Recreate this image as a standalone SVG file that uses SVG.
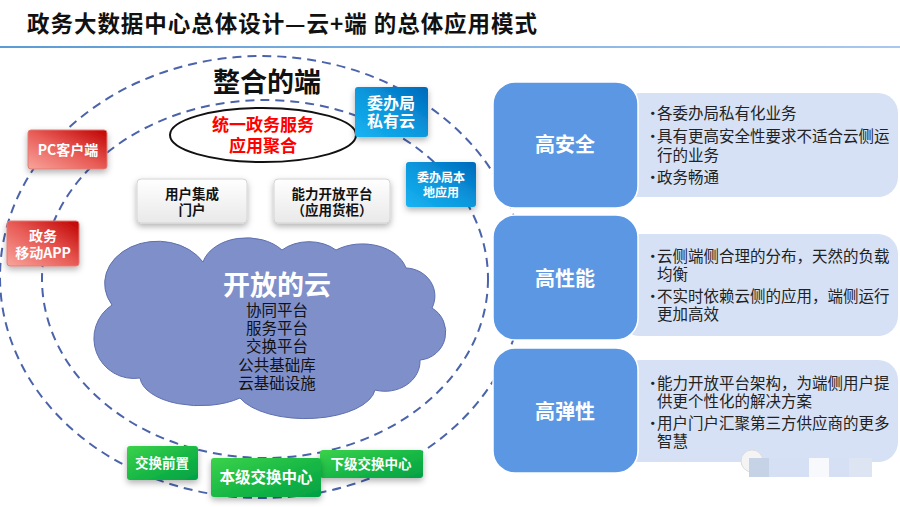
<svg xmlns="http://www.w3.org/2000/svg" width="900" height="507" viewBox="0 0 900 507">
<defs>
<style>
.t{font-family:"Noto Sans CJK SC","Liberation Sans",sans-serif;}
.w{fill:#fff;font-weight:bold;text-anchor:middle;}
.k{fill:#111;font-weight:bold;text-anchor:middle;}
.ring{fill:none;stroke:#4a63aa;stroke-width:2;stroke-dasharray:9 6;}
.big{fill:#5c97e4;stroke:#fff;stroke-width:1.5;}
.pan{fill:#d6e1f5;}
.bt{fill:#222;font-size:15.5px;}
</style>
<linearGradient id="gRed" x1="0" y1="1" x2="1" y2="0"><stop offset="0" stop-color="#f8a59c"/><stop offset="0.5" stop-color="#e85b56"/><stop offset="1" stop-color="#c00000"/></linearGradient>
<linearGradient id="gBlue" x1="0" y1="1" x2="1" y2="0"><stop offset="0" stop-color="#17b3f2"/><stop offset="0.5" stop-color="#0a97dc"/><stop offset="1" stop-color="#0068bb"/></linearGradient>
<linearGradient id="gGreen" x1="0" y1="0" x2="1" y2="1"><stop offset="0" stop-color="#3bd24b"/><stop offset="0.6" stop-color="#14b544"/><stop offset="1" stop-color="#02a046"/></linearGradient>
<linearGradient id="gGrey" x1="0" y1="0" x2="0" y2="1"><stop offset="0" stop-color="#ffffff"/><stop offset="1" stop-color="#e9e9e9"/></linearGradient>
<linearGradient id="gLine" x1="0" y1="0" x2="1" y2="0"><stop offset="0" stop-color="#5b9bd5"/><stop offset="1" stop-color="#a9c8ee"/></linearGradient>
<filter id="sh" x="-20%" y="-30%" width="140%" height="180%"><feDropShadow dx="0" dy="3" stdDeviation="3" flood-color="#000" flood-opacity="0.3"/></filter>
</defs>
<rect width="900" height="507" fill="#fff"/>
<g id="title">
<text class="t" x="27" y="32" font-size="22.5" font-weight="bold" fill="#111" textLength="510" lengthAdjust="spacing">政务大数据中心总体设计—云+端 的总体应用模式</text>
<rect x="0" y="46" width="900" height="2" fill="url(#gLine)"/>
</g>
<g id="connectors">
<ellipse class="ring" cx="262" cy="277" rx="262" ry="221"/>
<ellipse class="ring" cx="265" cy="279" rx="223" ry="179"/>
</g>
<g id="zhenghe">
<text class="t k" x="267" y="92" font-size="27">整合的端</text>
</g>
<g id="juhe">
<ellipse cx="263" cy="135" rx="93" ry="27" fill="#fff" stroke="#111" stroke-width="2"/>
<text class="t" x="263" y="131" font-size="17" font-weight="bold" fill="#f00" text-anchor="middle">统一政务服务</text>
<text class="t" x="263" y="152" font-size="17" font-weight="bold" fill="#f00" text-anchor="middle">应用聚合</text>
</g>
<g id="pc">
<rect x="28" y="130" width="79" height="39" rx="3" fill="url(#gRed)" stroke="#e27a74" filter="url(#sh)"/>
<text class="t w" x="68" y="155" font-size="14">PC客户端</text>
</g>
<g id="mobile">
<rect x="7" y="221" width="72" height="45" rx="3" fill="url(#gRed)" stroke="#e27a74" filter="url(#sh)"/>
<text class="t w" x="43" y="241" font-size="14">政务</text>
<text class="t w" x="43" y="258" font-size="14">移动APP</text>
</g>
<g id="private">
<rect x="355" y="87" width="73" height="50" rx="3" fill="url(#gBlue)" filter="url(#sh)"/>
<text class="t w" x="391" y="109" font-size="16">委办局</text>
<text class="t w" x="391" y="127" font-size="16">私有云</text>
</g>
<g id="local">
<rect x="406" y="162" width="70" height="45" rx="3" fill="url(#gBlue)" filter="url(#sh)"/>
<text class="t w" x="441" y="182" font-size="12">委办局本</text>
<text class="t w" x="441" y="197" font-size="12">地应用</text>
</g>
<g id="portal">
<rect x="137" y="179" width="110" height="44" rx="4" fill="url(#gGrey)" stroke="#d4d4d4" filter="url(#sh)"/>
<text class="t k" x="192" y="199" font-size="13.5">用户集成</text>
<text class="t k" x="192" y="215" font-size="13.5">门户</text>
</g>
<g id="open-platform">
<rect x="274" y="179" width="116" height="44" rx="4" fill="url(#gGrey)" stroke="#d4d4d4" filter="url(#sh)"/>
<text class="t k" x="332" y="199" font-size="13.5">能力开放平台</text>
<text class="t k" x="332" y="215" font-size="13.5">（应用货柜）</text>
</g>
<g id="cloud">
<path d="M203,262 A45,32 0 0 1 282,250 A38,28 0 0 1 336,250 A45,32 0 0 1 406,268 A30,28 0 0 1 432,308 A28,28 0 0 1 420,360 A35,30 0 0 1 375,390 A70,32 0 0 1 240,398 A60,30 0 0 1 140,378 A40,40 0 0 1 112,305 A50,40 0 0 1 203,262 Z" fill="#7f8fca" stroke="#5d6fae" stroke-width="1"/>
<text class="t w" x="277" y="295" font-size="27">开放的云</text>
<g class="t" fill="#111" font-size="15.5" text-anchor="middle">
<text x="277" y="316">协同平台</text>
<text x="277" y="334">服务平台</text>
<text x="277" y="352">交换平台</text>
<text x="277" y="371">公共基础库</text>
<text x="277" y="389">云基础设施</text>
</g>
</g>
<g id="front">
<rect x="127" y="446" width="71" height="34" rx="3" fill="url(#gGreen)" filter="url(#sh)"/>
<text class="t w" x="162" y="468" font-size="13.5">交换前置</text>
</g>
<g id="lower">
<rect x="320" y="450" width="103" height="28" rx="3" fill="url(#gGreen)" filter="url(#sh)"/>
<text class="t w" x="371" y="469" font-size="13.5">下级交换中心</text>
</g>
<g id="local-center">
<rect x="211" y="458" width="110" height="39" rx="3" fill="url(#gGreen)" filter="url(#sh)"/>
<text class="t w" x="266" y="483" font-size="15.5">本级交换中心</text>
</g>
<g id="security">
<rect class="pan" x="620" y="93" width="278" height="104" rx="20"/>
<rect class="big" x="493" y="82" width="145" height="126" rx="22"/>
<text class="t w" x="565" y="152" font-size="20">高安全</text>
<g class="t bt">
<text x="645" y="119">•<tspan x="657">各委办局私有化业务</tspan></text>
<text x="645" y="142">•<tspan x="657">具有更高安全性要求不适合云侧运</tspan><tspan x="657" dy="19">行的业务</tspan></text>
<text x="645" y="183">•<tspan x="657">政务畅通</tspan></text>
</g>
</g>
<g id="performance">
<rect class="pan" x="620" y="234" width="278" height="102" rx="20"/>
<rect class="big" x="493" y="215" width="145" height="125" rx="22"/>
<text class="t w" x="565" y="286" font-size="20">高性能</text>
<g class="t bt">
<text x="645" y="262">•<tspan x="657">云侧端侧合理的分布，天然的负载</tspan><tspan x="657" dy="18">均衡</tspan></text>
<text x="645" y="302">•<tspan x="657">不实时依赖云侧的应用，端侧运行</tspan><tspan x="657" dy="18">更加高效</tspan></text>
</g>
</g>
<g id="elastic">
<rect class="pan" x="620" y="360" width="278" height="102" rx="20"/>
<rect class="big" x="493" y="348" width="145" height="125" rx="22"/>
<text class="t w" x="565" y="419" font-size="20">高弹性</text>
<g class="t bt">
<text x="645" y="389">•<tspan x="657">能力开放平台架构，为端侧用户提</tspan><tspan x="657" dy="18">供更个性化的解决方案</tspan></text>
<text x="645" y="429">•<tspan x="657">用户门户汇聚第三方供应商的更多</tspan><tspan x="657" dy="18">智慧</tspan></text>
</g>
</g>
<g id="watermark">
<circle cx="752" cy="461" r="11" fill="#f4f4f4" stroke="#dcdcdc"/>
<rect x="749" y="458" width="20" height="19" fill="#c6d2e6"/>
<rect x="769" y="458" width="40" height="19" fill="#d5e0f4"/>
<rect x="809" y="458" width="20" height="19" fill="#f7f9fc"/>
<rect x="829" y="458" width="20" height="19" fill="#d5e0f4"/>
<rect x="849" y="458" width="23" height="19" fill="#dde5f3"/>
</g>
</svg>
